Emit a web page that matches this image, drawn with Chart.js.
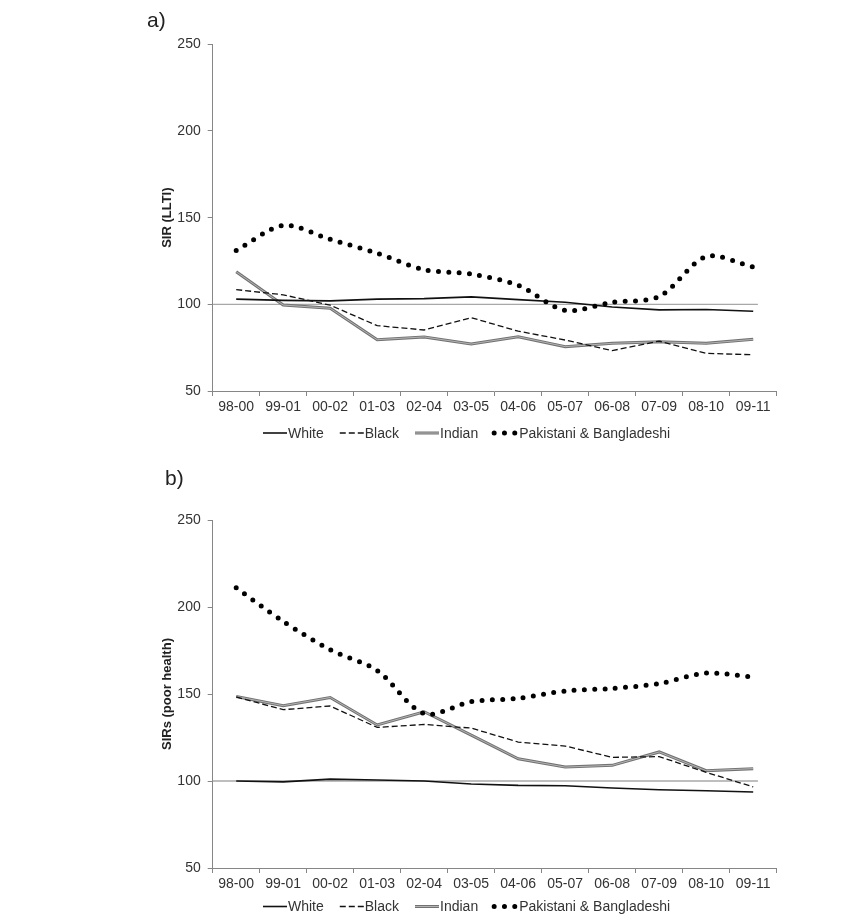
<!DOCTYPE html>
<html>
<head>
<meta charset="utf-8">
<script src="https://cdn.jsdelivr.net/npm/chart.js@4.4.0/dist/chart.umd.min.js"></script>
<style>
  body { margin: 0; background: #fff; }
  .wrap { position: relative; width: 865px; height: 919px; }
  canvas { position: absolute; left: 0; }
</style>
</head>
<body>
<div class="wrap">
  <canvas id="chartA" width="865" height="460" style="top:0"></canvas>
  <canvas id="chartB" width="865" height="459" style="top:460px"></canvas>
</div>
<script>
// categories (3-year periods)
const periods = ['98-00', '99-01', '00-02', '01-03', '02-04', '03-05', '04-06', '05-07', '06-08', '07-09', '08-10', '09-11']
const yTicks = [50, 100, 150, 200, 250]
const seriesNames = ['White', 'Black', 'Indian', 'Pakistani & Bangladeshi']

// a) SIR (LLTI)
const whiteA = [103, 102.3, 102, 103, 103.3, 104.3, 102.7, 101.2, 98.5, 96.8, 97, 96]
const blackA = [108.5, 105.5, 99.5, 87.7, 85.2, 92.3, 84.5, 79.4, 73.3, 78.8, 71.7, 70.9]
const indianA = [118.8, 99.6, 97.7, 79.6, 81.2, 77.1, 81.3, 75.6, 77.5, 78.4, 77.5, 79.8]
const pakBangA = [131, 145.5, 137.5, 129.5, 120, 117.5, 111, 96.5, 101.2, 104.5, 127.5, 121.5]

// b) SIRs (poor health)
const whiteB = [100, 99.5, 101.1, 100.6, 100, 98.3, 97.5, 97.3, 96, 95, 94.4, 93.7]
const blackB = [148.3, 141, 143.1, 130.8, 132.5, 130.4, 122.4, 120.1, 113.6, 114, 105, 96.6]
const indianB = [148.6, 143.3, 148, 132.2, 139.8, 126.4, 112.8, 108, 109, 116.7, 105.9, 107.1]
const pakBangB = [211, 191.7, 175.5, 163.5, 138.7, 145.6, 147.5, 151.7, 153.2, 156, 162, 159.7]

// reference line at SIR = 100 (x in category index units)
const refX = [-0.5, 11.1]
const refY = [100, 100]

const FONT = '"Liberation Sans", Arial, sans-serif'
const AXIS = '#868686'
const TXT = '#333'

// legend drawn as line samples (Excel style: sample line, then text right after)
const lineLegend = {
  id: 'lineLegend',
  afterDraw(chart, args, opts) {
    const ctx = chart.ctx
    const ds = chart.data.datasets
    ctx.save()
    ctx.font = '14px ' + FONT
    ctx.textBaseline = 'middle'
    let x = opts.x
    opts.items.forEach(item => {
      item.idx.forEach(i => {
        const d = ds[i]
        ctx.beginPath()
        ctx.setLineDash(d.borderDash || [])
        ctx.lineCap = d.borderCapStyle || 'butt'
        ctx.lineWidth = d.borderWidth
        ctx.strokeStyle = d.borderColor
        ctx.moveTo(x, opts.y)
        ctx.lineTo(x + 24, opts.y)
        ctx.stroke()
      })
      ctx.setLineDash([])
      ctx.fillStyle = TXT
      ctx.fillText(item.text, x + 25, opts.y + 1)
      x += 25 + ctx.measureText(item.text).width + 16
    })
    ctx.font = '21px ' + FONT
    ctx.fillStyle = '#222'
    ctx.fillText(opts.panel, opts.panelX, opts.panelY)
    ctx.restore()
  }
}

function makeChart(id, title, white, black, indian, pakBang, pad, legendY, panel, panelX, panelY) {
  const ctx = document.getElementById(id).getContext('2d')
  return new Chart(ctx, {
    type: 'line',
    data: {
      labels: periods,
      datasets: [
        {
          label: seriesNames[3], data: pakBang, borderColor: '#000', borderWidth: 5,
          borderDash: [0, 10.3], borderCapStyle: 'round', tension: 0.3, pointRadius: 0
        },
        { label: seriesNames[0], data: white, borderColor: '#111', borderWidth: 1.6, tension: 0, pointRadius: 0 },
        { label: seriesNames[1], data: black, borderColor: '#111', borderWidth: 1.3, borderDash: [6, 3], tension: 0, pointRadius: 0 },
        { label: 'inner', data: indian, borderColor: '#b4b4b4', borderWidth: 1, tension: 0, pointRadius: 0 },
        { label: seriesNames[2], data: indian, borderColor: '#727272', borderWidth: 3, tension: 0, pointRadius: 0 },
        {
          label: 'ref', xAxisID: 'x2', data: refX.map((v, i) => ({ x: v, y: refY[i] })),
          borderColor: '#a8a8a8', borderWidth: 1.4, pointRadius: 0
        }
      ]
    },
    options: {
      responsive: false,
      animation: false,
      layout: { padding: pad },
      plugins: {
        legend: { display: false },
        tooltip: { enabled: false },
        lineLegend: {
          x: 263, y: legendY, panel: panel, panelX: panelX, panelY: panelY,
          items: [
            { idx: [1], text: seriesNames[0] },
            { idx: [2], text: seriesNames[1] },
            { idx: [4, 3], text: seriesNames[2] },
            { idx: [0], text: seriesNames[3] }
          ]
        }
      },
      scales: {
        x: {
          type: 'category',
          offset: true,
          grid: { offset: true, drawOnChartArea: false, tickLength: 5, color: AXIS },
          border: { color: AXIS, width: 1 },
          ticks: { color: TXT, padding: 3, font: { family: FONT, size: 14 }, maxRotation: 0, autoSkip: false },
          afterFit: s => { s.height = 30 }
        },
        x2: { type: 'linear', display: false, min: -0.5, max: 11.5 },
        y: {
          min: yTicks[0], max: yTicks[yTicks.length - 1],
          afterBuildTicks: s => { s.ticks = yTicks.map(v => ({ value: v })) },
          grid: { drawOnChartArea: false, tickLength: 5, color: AXIS },
          border: { color: AXIS, width: 1 },
          ticks: { color: TXT, padding: 7, font: { family: FONT, size: 14 } },
          title: {
            display: true, text: title, color: '#222',
            font: { family: FONT, size: 13, weight: 'bold' }, padding: { top: 10, bottom: 0 }
          },
          afterFit: s => { s.width = 62.7 }
        }
      }
    },
    plugins: [lineLegend]
  })
}

makeChart('chartA', 'SIR (LLTI)', whiteA, blackA, indianA, pakBangA,
  { left: 150, right: 88.3, top: 44.3, bottom: 39 }, 433, 'a)', 147, 21)
makeChart('chartB', 'SIRs (poor health)', whiteB, blackB, indianB, pakBangB,
  { left: 150, right: 88.3, top: 60, bottom: 21 }, 446.5, 'b)', 165, 19)
</script>
</body>
</html>
